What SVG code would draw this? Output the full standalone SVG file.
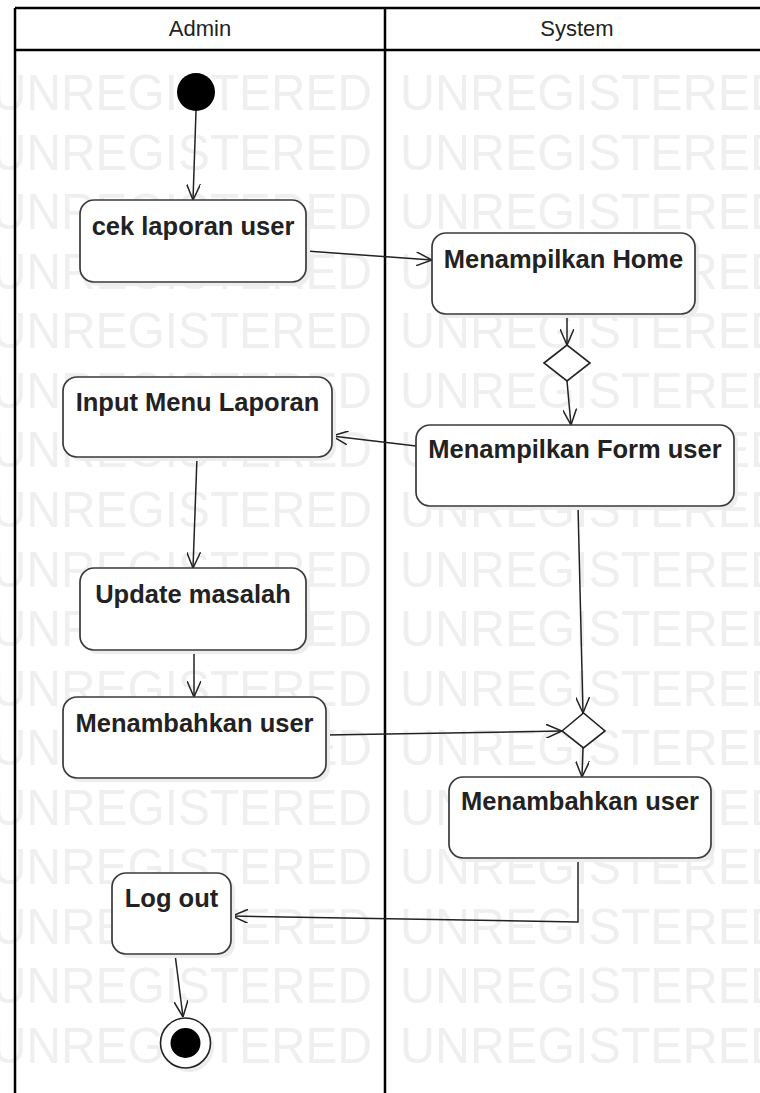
<svg xmlns="http://www.w3.org/2000/svg" width="760" height="1093" viewBox="0 0 760 1093">
<style>
.wm{font-family:"Liberation Sans",Arial,sans-serif;font-size:50px;fill:#efefef}
.node rect.b{fill:#fff;stroke:#3a3a3a;stroke-width:1.7}
.node rect.s{fill:#ededed}
.lbl{font-family:"Liberation Sans",Arial,sans-serif;font-size:25.5px;font-weight:bold;fill:#222;text-anchor:middle}
.hdr{font-family:"Liberation Sans",Arial,sans-serif;font-size:22px;fill:#222;text-anchor:middle}
.lane{stroke:#000;stroke-width:2.5;fill:none}
.con{stroke:#222;stroke-width:1.5;fill:none}
.dia{fill:#fff;stroke:#222;stroke-width:1.6}
</style>
<defs>
<marker id="arr" viewBox="0 0 16 14" refX="16" refY="7" markerWidth="16" markerHeight="14" markerUnits="userSpaceOnUse" orient="auto">
<path d="M0,0 L16,7 L0,14" fill="none" stroke="#222" stroke-width="1.5"/>
</marker>
</defs>
<rect width="760" height="1093" fill="#fff"/>
<g id="watermark">
<text class="wm" x="-8" y="110" textLength="380" lengthAdjust="spacingAndGlyphs">UNREGISTERED</text>
<text class="wm" x="400" y="110" textLength="385" lengthAdjust="spacingAndGlyphs">UNREGISTERED</text>
<text class="wm" x="-8" y="169.6" textLength="380" lengthAdjust="spacingAndGlyphs">UNREGISTERED</text>
<text class="wm" x="400" y="169.6" textLength="385" lengthAdjust="spacingAndGlyphs">UNREGISTERED</text>
<text class="wm" x="-8" y="229.1" textLength="380" lengthAdjust="spacingAndGlyphs">UNREGISTERED</text>
<text class="wm" x="400" y="229.1" textLength="385" lengthAdjust="spacingAndGlyphs">UNREGISTERED</text>
<text class="wm" x="-8" y="288.7" textLength="380" lengthAdjust="spacingAndGlyphs">UNREGISTERED</text>
<text class="wm" x="400" y="288.7" textLength="385" lengthAdjust="spacingAndGlyphs">UNREGISTERED</text>
<text class="wm" x="-8" y="348.2" textLength="380" lengthAdjust="spacingAndGlyphs">UNREGISTERED</text>
<text class="wm" x="400" y="348.2" textLength="385" lengthAdjust="spacingAndGlyphs">UNREGISTERED</text>
<text class="wm" x="-8" y="407.8" textLength="380" lengthAdjust="spacingAndGlyphs">UNREGISTERED</text>
<text class="wm" x="400" y="407.8" textLength="385" lengthAdjust="spacingAndGlyphs">UNREGISTERED</text>
<text class="wm" x="-8" y="467.4" textLength="380" lengthAdjust="spacingAndGlyphs">UNREGISTERED</text>
<text class="wm" x="400" y="467.4" textLength="385" lengthAdjust="spacingAndGlyphs">UNREGISTERED</text>
<text class="wm" x="-8" y="526.9" textLength="380" lengthAdjust="spacingAndGlyphs">UNREGISTERED</text>
<text class="wm" x="400" y="526.9" textLength="385" lengthAdjust="spacingAndGlyphs">UNREGISTERED</text>
<text class="wm" x="-8" y="586.5" textLength="380" lengthAdjust="spacingAndGlyphs">UNREGISTERED</text>
<text class="wm" x="400" y="586.5" textLength="385" lengthAdjust="spacingAndGlyphs">UNREGISTERED</text>
<text class="wm" x="-8" y="646" textLength="380" lengthAdjust="spacingAndGlyphs">UNREGISTERED</text>
<text class="wm" x="400" y="646" textLength="385" lengthAdjust="spacingAndGlyphs">UNREGISTERED</text>
<text class="wm" x="-8" y="705.6" textLength="380" lengthAdjust="spacingAndGlyphs">UNREGISTERED</text>
<text class="wm" x="400" y="705.6" textLength="385" lengthAdjust="spacingAndGlyphs">UNREGISTERED</text>
<text class="wm" x="-8" y="765.2" textLength="380" lengthAdjust="spacingAndGlyphs">UNREGISTERED</text>
<text class="wm" x="400" y="765.2" textLength="385" lengthAdjust="spacingAndGlyphs">UNREGISTERED</text>
<text class="wm" x="-8" y="824.7" textLength="380" lengthAdjust="spacingAndGlyphs">UNREGISTERED</text>
<text class="wm" x="400" y="824.7" textLength="385" lengthAdjust="spacingAndGlyphs">UNREGISTERED</text>
<text class="wm" x="-8" y="884.3" textLength="380" lengthAdjust="spacingAndGlyphs">UNREGISTERED</text>
<text class="wm" x="400" y="884.3" textLength="385" lengthAdjust="spacingAndGlyphs">UNREGISTERED</text>
<text class="wm" x="-8" y="943.8" textLength="380" lengthAdjust="spacingAndGlyphs">UNREGISTERED</text>
<text class="wm" x="400" y="943.8" textLength="385" lengthAdjust="spacingAndGlyphs">UNREGISTERED</text>
<text class="wm" x="-8" y="1003.4" textLength="380" lengthAdjust="spacingAndGlyphs">UNREGISTERED</text>
<text class="wm" x="400" y="1003.4" textLength="385" lengthAdjust="spacingAndGlyphs">UNREGISTERED</text>
<text class="wm" x="-8" y="1063" textLength="380" lengthAdjust="spacingAndGlyphs">UNREGISTERED</text>
<text class="wm" x="400" y="1063" textLength="385" lengthAdjust="spacingAndGlyphs">UNREGISTERED</text>
</g>
<g id="lanes">
<rect x="15" y="8" width="760" height="42" fill="#fff"/>
<line class="lane" x1="15" y1="8" x2="760" y2="8"/>
<line class="lane" x1="15" y1="50" x2="760" y2="50"/>
<line class="lane" x1="15" y1="8" x2="15" y2="1093"/>
<line class="lane" x1="385" y1="8" x2="385" y2="1093"/>
<text class="hdr" x="200" y="36">Admin</text>
<text class="hdr" x="577" y="36">System</text>
</g>
<g id="connectors">
<path class="con" d="M196,111 L193,200" marker-end="url(#arr)"/>
<path class="con" d="M306,251 L432,260" marker-end="url(#arr)"/>
<path class="con" d="M567,314 L567,345" marker-end="url(#arr)"/>
<path class="con" d="M567,381 L571,425" marker-end="url(#arr)"/>
<path class="con" d="M416,446 L332,436" marker-end="url(#arr)"/>
<path class="con" d="M197,457 L193,568" marker-end="url(#arr)"/>
<path class="con" d="M194,650 L194,697" marker-end="url(#arr)"/>
<path class="con" d="M326,735 L562,731" marker-end="url(#arr)"/>
<path class="con" d="M578,506 L583,713" marker-end="url(#arr)"/>
<path class="con" d="M583,748 L582,777" marker-end="url(#arr)"/>
<path class="con" d="M578,858 L578,922 L232,916" marker-end="url(#arr)"/>
<path class="con" d="M175,954 L183,1017" marker-end="url(#arr)"/>
</g>
<g id="start">
<circle cx="196" cy="92" r="19" fill="#000"/>
</g>
<g id="cek" class="node">
<rect class="s" x="84" y="204" width="226" height="82" rx="14"/>
<rect class="b" x="80" y="200" width="226" height="82" rx="14"/>
<text class="lbl" x="193" y="235">cek laporan user</text>
</g>
<g id="home" class="node">
<rect class="s" x="436" y="237" width="263" height="81" rx="14"/>
<rect class="b" x="432" y="233" width="263" height="81" rx="14"/>
<text class="lbl" x="563.5" y="268">Menampilkan Home</text>
</g>
<g id="decision1">
<polygon class="dia" points="544,363 567,345 590,363 567,381"/>
</g>
<g id="form" class="node">
<rect class="s" x="420" y="429" width="318" height="81" rx="14"/>
<rect class="b" x="416" y="425" width="318" height="81" rx="14"/>
<text class="lbl" x="575" y="458">Menampilkan Form user</text>
</g>
<g id="input" class="node">
<rect class="s" x="67" y="381" width="269" height="80" rx="14"/>
<rect class="b" x="63" y="377" width="269" height="80" rx="14"/>
<text class="lbl" x="197.5" y="411">Input Menu Laporan</text>
</g>
<g id="update" class="node">
<rect class="s" x="84" y="572" width="226" height="82" rx="14"/>
<rect class="b" x="80" y="568" width="226" height="82" rx="14"/>
<text class="lbl" x="193" y="603">Update masalah</text>
</g>
<g id="tambahAdmin" class="node">
<rect class="s" x="67" y="701" width="263" height="81" rx="14"/>
<rect class="b" x="63" y="697" width="263" height="81" rx="14"/>
<text class="lbl" x="194.5" y="732">Menambahkan user</text>
</g>
<g id="decision2">
<polygon class="dia" points="562,731 583.5,713 605,731 583.5,748"/>
</g>
<g id="tambahSystem" class="node">
<rect class="s" x="453" y="781" width="262" height="81" rx="14"/>
<rect class="b" x="449" y="777" width="262" height="81" rx="14"/>
<text class="lbl" x="580" y="810">Menambahkan user</text>
</g>
<g id="logout" class="node">
<rect class="s" x="116" y="877" width="119" height="81" rx="14"/>
<rect class="b" x="112" y="873" width="119" height="81" rx="14"/>
<text class="lbl" x="171.5" y="907">Log out</text>
</g>
<g id="end">
<circle cx="189" cy="1047" r="25" fill="#ededed"/>
<circle cx="185.5" cy="1043" r="25" fill="#fff" stroke="#222" stroke-width="1.6"/>
<circle cx="185.5" cy="1043" r="15" fill="#000"/>
</g>
</svg>
